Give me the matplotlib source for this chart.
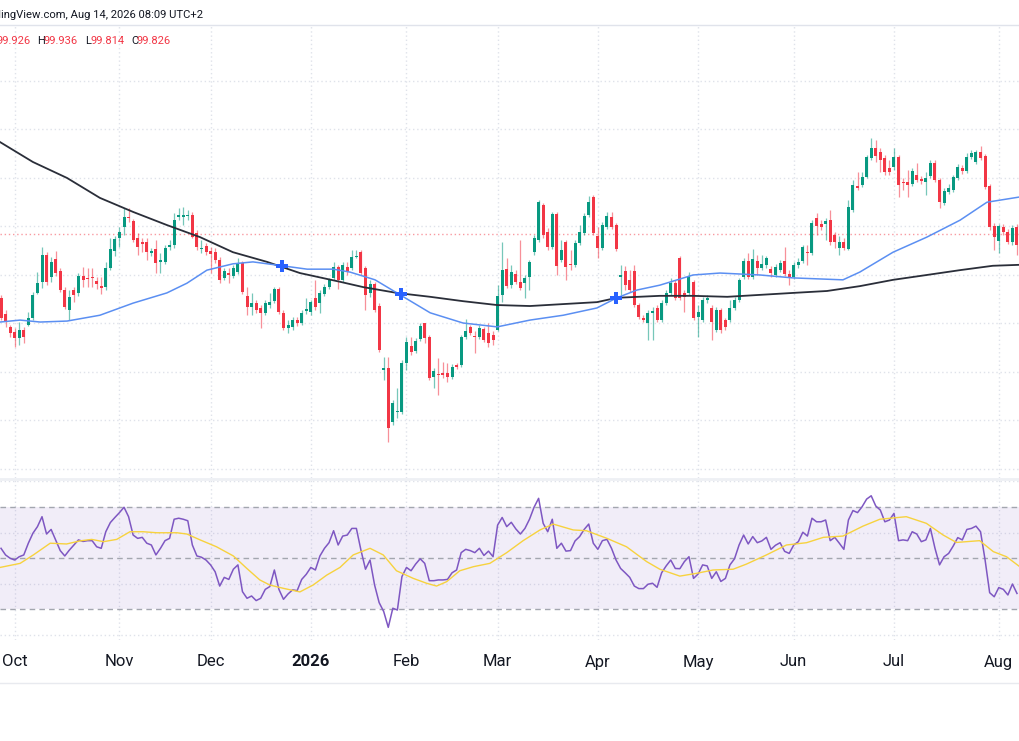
import matplotlib.pyplot as plt
import matplotlib.transforms as mtransforms
import numpy as np
import pandas as pd

# daily candles (26 Sep 2025 onwards)
opens = [98.52, 98.19, 97.92, 97.81, 97.69, 97.86, 97.96, 98.10, 98.62, 98.85,
         99.40, 98.95, 99.32, 99.07, 98.68, 98.27, 98.68, 98.62, 98.97, 98.93,
         98.95, 98.87, 98.76, 98.74, 99.13, 99.48, 99.75, 99.98, 100.19, 100.10,
         99.75, 99.67, 99.67, 99.44, 99.53, 99.26, 99.26, 99.57, 99.61, 100.19,
         100.19, 100.21, 100.23, 99.86, 99.53, 99.59, 99.48, 99.46, 99.30, 98.93,
         99.03, 98.97, 99.05, 99.24, 98.56, 98.33, 98.41, 98.31, 98.21, 98.37,
         98.45, 98.70, 98.21, 97.90, 97.92, 98.06, 98.00, 98.25, 98.23, 98.52,
         98.41, 98.60, 98.74, 98.93, 99.15, 98.89, 99.15, 99.13, 99.36, 99.46,
         99.13, 98.62, 98.80, 98.35, 97.03, 97.07, 95.96, 96.16, 96.16, 97.18,
         97.53, 97.42, 97.67, 98.00, 97.71, 96.89, 96.95, 96.97, 96.97, 96.89,
         97.13, 97.13, 97.71, 97.92, 97.73, 97.71, 97.88, 97.79, 97.75, 97.86,
         98.58, 99.11, 98.78, 99.01, 98.85, 98.82, 98.95, 99.46, 99.71, 100.43,
         99.88, 99.57, 100.25, 99.30, 99.67, 99.22, 99.20, 99.65, 99.86, 100.23,
         100.60, 99.79, 99.55, 99.98, 100.19, 100.02, 98.95, 99.07, 98.89, 99.07,
         98.37, 98.10, 98.00, 98.21, 98.31, 98.06, 98.41, 98.62, 98.82, 99.34,
         98.62, 98.62, 98.85, 98.12, 98.06, 98.47, 98.31, 97.86, 98.27, 98.06,
         98.06, 98.31, 98.47, 98.95, 99.28, 98.95, 99.28, 99.13, 99.20, 99.11,
         98.99, 99.09, 99.28, 99.01, 98.95, 99.20, 99.28, 99.46, 99.44, 100.16,
         100.04, 100.04, 100.12, 99.81, 99.55, 99.67, 99.53, 100.33, 100.82, 100.85,
         101.01, 101.40, 101.61, 101.53, 101.40, 101.20, 101.22, 101.42, 100.91, 100.91,
         100.87, 101.05, 100.97, 100.91, 101.03, 101.30, 100.95, 100.47, 100.70, 100.74,
         100.99, 101.20, 101.13, 101.42, 101.32, 101.53, 101.44, 100.82, 100.00, 99.69,
         99.98, 99.88, 99.67, 99.98]
highs = [98.58, 98.27, 97.96, 97.90, 98.02, 97.92, 98.23, 98.64, 99.05, 99.57,
         99.46, 99.36, 99.48, 99.13, 98.74, 98.68, 98.74, 99.03, 99.15, 99.13,
         99.13, 98.95, 98.95, 99.26, 99.75, 99.79, 99.98, 100.37, 100.37, 100.14,
         99.86, 99.75, 99.75, 99.55, 99.71, 99.44, 99.61, 99.71, 100.27, 100.37,
         100.39, 100.33, 100.29, 99.92, 99.71, 99.65, 99.57, 99.55, 99.36, 99.13,
         99.13, 99.20, 99.34, 99.28, 98.74, 98.62, 98.47, 98.37, 98.47, 98.62,
         98.74, 98.74, 98.27, 98.06, 98.12, 98.12, 98.27, 98.52, 98.47, 98.89,
         98.68, 98.80, 98.93, 99.26, 99.20, 99.26, 99.26, 99.51, 99.51, 99.51,
         99.18, 98.89, 98.85, 98.41, 97.30, 97.30, 96.41, 96.66, 97.24, 97.71,
         97.71, 97.69, 98.00, 98.00, 97.75, 97.07, 97.28, 97.20, 97.18, 97.15,
         97.18, 97.75, 98.08, 97.96, 97.84, 97.96, 97.92, 98.00, 97.84, 98.78,
         99.67, 99.34, 99.20, 99.09, 99.71, 98.99, 99.30, 99.81, 100.54, 100.47,
         99.96, 100.29, 100.29, 99.71, 99.71, 99.51, 99.71, 100.02, 100.27, 100.62,
         100.64, 99.98, 100.08, 100.29, 100.29, 100.06, 99.20, 99.18, 99.09, 99.20,
         98.41, 98.16, 98.27, 98.33, 98.37, 98.47, 98.68, 98.93, 98.89, 99.38,
         98.68, 99.05, 98.89, 98.37, 98.54, 98.58, 98.37, 98.33, 98.31, 98.10,
         98.47, 98.54, 98.93, 99.34, 99.44, 99.53, 99.40, 99.40, 99.38, 99.18,
         99.22, 99.30, 99.57, 99.09, 99.26, 99.34, 99.61, 99.61, 100.12, 100.27,
         100.12, 100.16, 100.33, 99.88, 99.79, 99.75, 100.54, 100.95, 101.11, 101.11,
         101.46, 101.81, 101.77, 101.61, 101.46, 101.36, 101.61, 101.46, 100.99, 101.15,
         101.20, 101.30, 101.03, 101.11, 101.36, 101.36, 100.99, 100.78, 100.87, 101.05,
         101.28, 101.26, 101.51, 101.57, 101.57, 101.65, 101.48, 100.87, 100.06, 100.04,
         100.04, 99.94, 100.02, 100.04]
lows = [98.06, 97.92, 97.71, 97.51, 97.55, 97.59, 97.94, 98.06, 98.60, 98.72,
        98.78, 98.85, 98.97, 98.64, 98.29, 98.06, 98.43, 98.56, 98.74, 98.74,
        98.74, 98.70, 98.60, 98.68, 99.09, 99.38, 99.57, 99.81, 100.08, 99.67,
        99.40, 99.46, 99.30, 99.38, 99.03, 99.03, 99.22, 99.51, 99.55, 100.12,
        100.02, 100.12, 99.75, 99.51, 99.44, 99.40, 99.03, 99.24, 98.82, 98.89,
        98.82, 98.93, 99.01, 98.60, 98.16, 98.16, 98.21, 97.90, 98.16, 98.31,
        98.41, 98.19, 97.86, 97.79, 97.86, 97.94, 97.96, 98.19, 98.16, 98.27,
        98.21, 98.56, 98.70, 98.89, 98.70, 98.85, 98.99, 99.09, 99.34, 98.99,
        98.27, 98.54, 98.23, 97.40, 96.82, 95.55, 95.90, 96.04, 96.12, 97.03,
        97.34, 97.38, 97.63, 97.59, 96.82, 96.66, 96.52, 96.87, 96.78, 96.85,
        97.05, 97.09, 97.67, 97.75, 97.38, 97.67, 97.61, 97.51, 97.55, 97.84,
        98.43, 98.72, 98.72, 98.80, 98.68, 98.52, 98.68, 99.40, 99.67, 99.75,
        99.51, 99.53, 98.99, 99.26, 98.89, 99.09, 99.15, 99.61, 99.81, 100.19,
        99.81, 99.34, 99.51, 99.94, 99.94, 99.48, 98.58, 98.68, 98.64, 98.33,
        98.08, 98.02, 97.65, 97.65, 98.02, 98.02, 98.37, 98.58, 98.47, 98.47,
        98.23, 98.58, 98.06, 97.71, 98.02, 98.41, 97.65, 97.81, 97.79, 97.86,
        98.02, 98.27, 98.43, 98.91, 98.91, 98.91, 98.99, 99.09, 99.13, 98.95,
        98.95, 99.05, 98.97, 98.78, 98.91, 99.13, 99.24, 99.20, 99.40, 99.81,
        99.92, 99.71, 99.61, 99.55, 99.40, 99.51, 99.51, 100.29, 100.74, 100.80,
        100.99, 101.36, 101.32, 101.11, 101.05, 101.05, 101.15, 100.60, 100.74, 100.60,
        100.82, 100.91, 100.87, 100.64, 100.99, 100.91, 100.37, 100.43, 100.66, 100.70,
        100.95, 101.07, 101.09, 101.38, 101.28, 101.36, 100.76, 99.92, 99.51, 99.44,
        99.81, 99.63, 99.61, 99.40]
closes = [98.10, 98.02, 97.79, 97.69, 97.86, 97.71, 98.10, 98.58, 98.82, 99.40,
          98.85, 99.26, 99.03, 98.68, 98.33, 98.54, 98.58, 98.97, 98.89, 98.91,
          98.93, 98.80, 98.72, 99.13, 99.53, 99.73, 99.88, 100.19, 100.16, 99.71,
          99.57, 99.63, 99.46, 99.48, 99.24, 99.30, 99.55, 99.61, 100.12, 100.23,
          100.23, 100.23, 99.77, 99.57, 99.55, 99.46, 99.42, 99.30, 98.89, 99.07,
          98.99, 99.13, 99.24, 98.64, 98.33, 98.41, 98.27, 98.21, 98.41, 98.43,
          98.70, 98.23, 97.90, 97.96, 98.06, 98.00, 98.21, 98.29, 98.43, 98.33,
          98.62, 98.74, 98.89, 99.15, 98.89, 99.20, 99.05, 99.36, 99.38, 99.03,
          98.58, 98.80, 98.27, 97.44, 97.07, 95.84, 96.35, 96.19, 97.18, 97.61,
          97.40, 97.63, 97.94, 97.69, 96.87, 97.01, 96.93, 96.93, 96.89, 97.09,
          97.09, 97.71, 97.84, 97.79, 97.71, 97.90, 97.65, 97.59, 97.65, 98.56,
          99.09, 98.76, 99.05, 98.85, 98.72, 98.93, 99.26, 99.75, 100.49, 99.81,
          99.57, 100.25, 99.18, 99.51, 99.15, 99.20, 99.65, 99.88, 100.21, 100.49,
          99.86, 99.55, 100.02, 100.21, 99.98, 99.53, 98.99, 98.78, 98.68, 98.37,
          98.12, 98.06, 98.21, 98.25, 98.06, 98.41, 98.62, 98.82, 98.52, 98.52,
          98.54, 98.97, 98.10, 98.23, 98.47, 98.52, 98.02, 98.27, 97.86, 97.92,
          98.31, 98.47, 98.89, 99.28, 98.95, 99.32, 99.13, 99.22, 99.34, 99.03,
          99.15, 99.24, 99.01, 98.95, 99.20, 99.26, 99.57, 99.44, 100.06, 100.00,
          99.98, 100.10, 99.67, 99.67, 99.67, 99.55, 100.39, 100.85, 100.78, 101.01,
          101.42, 101.61, 101.44, 101.36, 101.11, 101.11, 101.42, 100.85, 100.89, 100.85,
          101.13, 100.95, 100.93, 100.99, 101.30, 100.95, 100.49, 100.72, 100.78, 101.01,
          101.22, 101.13, 101.42, 101.51, 101.53, 101.40, 100.80, 99.98, 99.77, 100.00,
          99.88, 99.67, 99.96, 99.61]

# moving averages, read as (bar number, value) vertices
sma50_bar = [-0.2, 4.2, 8.6, 14.5, 21.7, 29.0, 36.4, 40.8, 45.2, 50.9, 55.3, 61.7, 67.2, 72.9,
             76.6, 82.1, 86.9, 94.2, 101.4, 108.9, 116.1, 123.4, 130.8, 135.2, 139.6, 144.6,
             151.9, 157.8, 166.6, 173.8, 184.8, 188.5, 195.8, 203.2, 210.5, 216.4, 223.7]
sma50_val = [98.02, 98.06, 98.02, 98.04, 98.16, 98.41, 98.62, 98.82, 99.09, 99.22, 99.26, 99.18,
             99.11, 99.11, 99.05, 98.89, 98.62, 98.21, 98.00, 97.92, 98.06, 98.16, 98.31, 98.52,
             98.68, 98.78, 98.99, 99.03, 98.99, 98.93, 98.89, 99.05, 99.46, 99.77, 100.12,
             100.49, 100.60]
sma200_bar = [-0.2, 7.0, 14.5, 21.7, 29.0, 36.4, 43.7, 50.9, 58.4, 65.6, 74.4, 79.5, 86.9, 94.2,
              101.4, 108.9, 116.1, 123.4, 130.8, 135.2, 144.6, 151.9, 159.4, 166.6, 173.8, 181.3,
              188.5, 195.8, 203.2, 210.5, 217.7, 223.7]
sma200_val = [101.73, 101.32, 100.99, 100.58, 100.29, 100.02, 99.77, 99.46, 99.26, 99.03, 98.85,
              98.74, 98.62, 98.54, 98.45, 98.37, 98.35, 98.39, 98.43, 98.52, 98.56, 98.56, 98.54,
              98.58, 98.62, 98.66, 98.76, 98.89, 98.99, 99.09, 99.18, 99.20]
cross_bar = [61.7, 87.8, 135.0]
cross_val = [99.18, 98.60, 98.52]
last_price = 99.826

rsi = [53.8, 51.2, 49.9, 49.2, 50.5, 51.2, 55.8, 59.7, 62.3, 66.2,
       59.4, 61.2, 57.1, 52.9, 50.8, 53.1, 55.1, 57.1, 56.5, 56.8,
       56.8, 54.4, 53.8, 60.3, 63.9, 65.9, 67.8, 69.9, 66.2, 59.0,
       57.7, 58.1, 55.8, 55.1, 51.2, 53.8, 56.8, 57.7, 65.2, 65.6,
       65.2, 64.6, 55.1, 50.8, 50.3, 49.2, 47.3, 44.6, 39.0, 42.4,
       41.6, 45.6, 47.3, 36.8, 34.2, 35.1, 33.3, 34.2, 37.7, 38.8,
       45.3, 37.7, 33.8, 35.9, 37.5, 37.2, 41.6, 43.6, 46.3, 45.3,
       50.8, 53.8, 56.0, 60.7, 55.1, 58.6, 59.0, 61.6, 61.6, 53.1,
       45.6, 49.2, 39.4, 32.5, 29.0, 22.8, 30.3, 29.6, 42.7, 46.3,
       45.0, 47.6, 49.7, 47.9, 41.1, 41.1, 41.4, 41.4, 41.6, 44.2,
       45.3, 52.1, 53.4, 52.9, 52.1, 53.8, 51.0, 52.7, 50.5, 62.9,
       65.9, 62.3, 64.0, 61.4, 59.4, 61.6, 65.2, 69.9, 73.4, 63.6,
       60.3, 65.2, 53.8, 55.8, 52.7, 52.9, 56.7, 58.4, 61.2, 63.3,
       55.8, 53.4, 56.8, 57.3, 53.8, 49.2, 45.9, 44.2, 42.4, 39.0,
       38.0, 38.0, 39.7, 40.1, 38.5, 44.2, 46.9, 49.2, 45.9, 45.8,
       48.6, 50.5, 42.0, 43.7, 47.3, 46.9, 42.0, 44.6, 40.8, 42.0,
       47.3, 49.7, 55.1, 59.0, 55.5, 58.4, 56.0, 56.7, 58.1, 53.4,
       55.0, 56.0, 52.6, 51.8, 55.1, 56.4, 60.1, 58.6, 65.6, 64.2,
       64.2, 64.9, 56.8, 58.1, 55.8, 53.4, 64.9, 68.6, 67.8, 70.1,
       73.1, 74.4, 70.4, 68.8, 64.2, 64.9, 67.5, 56.8, 57.1, 56.8,
       60.3, 59.4, 56.4, 57.1, 61.6, 53.8, 47.3, 50.5, 51.8, 54.7,
       58.0, 57.1, 61.2, 61.6, 62.5, 60.3, 49.2, 36.4, 34.8, 38.4,
       37.7, 35.5, 39.8, 36.1]
rsi_ma_bar = [-0.2, 4.2, 7.1, 10.8, 14.4, 17.3, 19.9, 22.5, 25.4, 28.3, 31.2, 34.2, 38.6, 40.8,
              43.7, 47.3, 51.0, 53.9, 56.8, 59.0, 62.0, 65.6, 68.5, 71.5, 74.4, 77.3, 81.0,
              83.9, 86.8, 90.5, 93.4, 95.6, 97.8, 100.7, 103.7, 107.3, 111.0, 114.6, 118.3,
              121.2, 125.6, 128.5, 133.0, 137.3, 141.7, 144.6, 149.0, 152.7, 156.3, 160.7,
              163.6, 168.0, 172.4, 176.8, 180.5, 184.8, 189.2, 192.9, 198.7, 203.1, 206.8,
              209.7, 214.8, 217.8, 220.7, 223.6]
rsi_ma_val = [46.3, 47.9, 51.2, 55.8, 55.5, 56.7, 57.3, 56.4, 57.3, 60.3, 60.3, 59.9, 59.9, 59.4,
              57.1, 54.4, 50.8, 46.0, 41.4, 39.4, 38.1, 36.7, 39.4, 43.3, 46.3, 51.2, 53.8,
              51.2, 45.0, 42.0, 40.1, 39.0, 40.7, 45.0, 46.6, 47.9, 52.1, 56.8, 61.0, 63.3,
              61.0, 60.7, 57.7, 54.4, 48.6, 45.6, 42.9, 44.0, 45.3, 45.6, 47.6, 51.2, 55.1,
              56.0, 58.1, 58.6, 62.5, 65.2, 66.2, 63.6, 59.0, 56.1, 56.8, 52.5, 50.5, 46.6]

UP, DOWN = "#089981", "#f23645"
GRID = "#dfe2ea"
W, H = 1020, 741

dates = pd.bdate_range("2025-09-26", "2026-08-31")
dates = dates[~dates.isin(pd.to_datetime(["2025-12-25", "2026-01-01"]))][:len(closes)]

o = np.array(opens); h = np.array(highs); l = np.array(lows); c = np.array(closes)
x = np.arange(len(c))
months = dates.to_period("M")
first = [0] + [i for i in range(1, len(dates)) if months[i] != months[i - 1]]
first = [i for i in first if dates[i].day <= 5]
mlabels = [str(dates[i].year) if dates[i].month == 1 else dates[i].strftime("%b") for i in first]

fig = plt.figure(figsize=(W / 100, H / 100), dpi=100)
plt.rcParams["font.family"] = ["Roboto", "DejaVu Sans"]

def fy(py):
    return 1 - py / H

ax = fig.add_axes([0, fy(478), 1, (478 - 25) / H])
ax_r = fig.add_axes([0, fy(640), 1, (640 - 480) / H], sharex=ax)

for a in (ax, ax_r):
    for s in a.spines.values():
        s.set_visible(False)
    a.set_xticks(first)
    a.tick_params(length=0, labelbottom=False, labelleft=False)
    a.grid(True, color=GRID, lw=1, ls=(0, (1, 2)))
    a.set_axisbelow(True)

# price pane
col = np.where(c >= o, UP, DOWN)
ax.vlines(x, l, h, colors=col, lw=0.9, alpha=0.55, zorder=2)
ax.bar(x, np.maximum(np.abs(c - o), 0.012), bottom=np.minimum(o, c), width=0.66,
       color=col, lw=0, zorder=3)
ax.plot(sma200_bar, sma200_val, color="#2a2e39", lw=1.3, zorder=4)
ax.plot(sma50_bar, sma50_val, color="#5b8ff2", lw=1.1, zorder=4)
ax.plot(cross_bar, cross_val, "P", color="#2962ff", ms=8, mew=0, zorder=5)
ax.axhline(last_price, color=DOWN, lw=1, ls=(0, (1, 2)), alpha=0.5, zorder=1)
ax.set_yticks(range(95, 104))
ax.set_xlim(-0.22, 223.66)
ax.set_ylim(100 - 252 / 48.5, 100 + 201 / 48.5)

# RSI pane
ax_r.axhspan(30, 70, color="#7e57c2", alpha=0.1, lw=0)
for lvl in (30, 50, 70):
    ax_r.axhline(lvl, color="#a3a6af", lw=1, ls=(0, (4, 3)))
ax_r.plot(x, rsi, color="#7e57c2", lw=1.1)
ax_r.plot(rsi_ma_bar, rsi_ma_val, color="#f7d23e", lw=1.0)
ax_r.set_yticks([20, 40, 60, 80])
ax_r.set_ylim(30 - 31 / 2.55, 70 + 27 / 2.55)

# time axis labels
tr = mtransforms.blended_transform_factory(ax_r.transData, fig.transFigure)
for i, lab in zip(first, mlabels):
    ax_r.text(i, fy(662), lab, transform=tr, ha="center", va="center", fontsize=12,
              color="#131722", fontweight="bold" if lab.isdigit() else "normal")

# frame lines
for py, cl, lw in ((25, "#e0e3eb", 1), (479, "#eef0f4", 2), (683, "#e8eaef", 1)):
    fig.add_artist(plt.Line2D([0, 1], [fy(py), fy(py)], transform=fig.transFigure,
                              color=cl, lw=lw))

# header (left part of it is cut off in the screenshot)
fig.text(203 / W, fy(14.5), "TradingView.com, Aug 14, 2026 08:09 UTC+2", ha="right",
         va="center", fontsize=8.1, color="#131722")
ohlc = [("O", "99.926", -10, -4), ("H", "99.936", 37.5, 44), ("L", "99.814", 85.5, 90.5),
        ("C", "99.826", 131.5, 137)]
for k, v, kx, vx in ohlc:
    fig.text(kx / W, fy(41), k, ha="left", va="center", fontsize=8, color="#131722")
    fig.text(vx / W, fy(41), v, ha="left", va="center", fontsize=8, color=DOWN)

fig.savefig("out.png", dpi=100)
